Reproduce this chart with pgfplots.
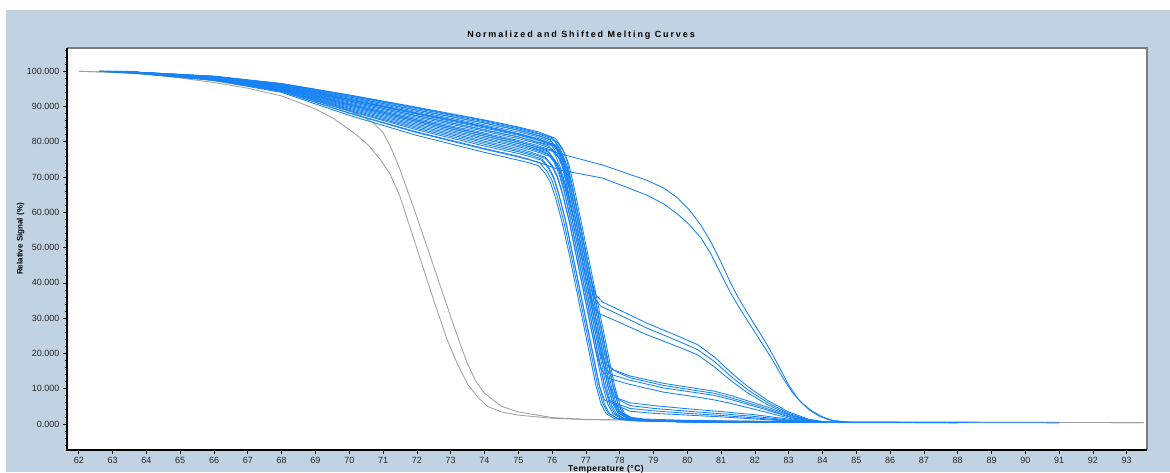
\documentclass[border=0pt]{standalone}
\usepackage{fontspec}
\setmainfont{Liberation Sans}
\newfontfamily\titlefont[LetterSpace=21]{Liberation Sans}
\newfontfamily\xlabfont[LetterSpace=6]{Liberation Sans}
\usepackage{pgfplots}
\pgfplotsset{compat=1.18}
\definecolor{bgblue}{RGB}{193,211,227}
\definecolor{cblue}{RGB}{22,130,245}
\definecolor{cgray}{RGB}{160,160,160}
\definecolor{frgray}{RGB}{125,125,125}
\begin{document}
\begin{tikzpicture}[x=1pt,y=1pt]
\fill[white] (0,0) rectangle (1170,472);
\fill[bgblue] (6,0) rectangle (1170,462);
\node[anchor=base,inner sep=0pt,font=\titlefont\bfseries\fontsize{9}{10}\selectfont] at (581,434) {Normalized and Shifted Melting Curves};
\node[rotate=90,inner sep=0pt,font=\bfseries\fontsize{8}{10}\selectfont] at (20.5,233) {Relative Signal (\%)};
\node[anchor=base,inner sep=0pt,font=\xlabfont\bfseries\fontsize{8.5}{10}\selectfont] at (606,0.8) {Temperature (°C)};
\begin{axis}[
  at={(67pt,22pt)}, anchor=south west, scale only axis,
  width=1080pt, height=402pt,
  xmin=61.65, xmax=93.6, ymin=-7.4, ymax=106.6,
  axis background/.style={fill=white},
  xtick={62,63,...,93}, ytick={0,10,...,100},
  minor ytick={-6,-4,...,106},
  tick align=outside, tick pos=left,
  major tick length=4pt, minor tick length=2.5pt,
  every tick/.style={black, line width=0.7pt},
  axis line style={draw=none},
  clip=false,
  tick label style={font=\fontsize{9}{10}\selectfont, text=black!85},
  /pgf/number format/assume math mode=true,
  yticklabel style={/pgf/number format/fixed, /pgf/number format/fixed zerofill, /pgf/number format/precision=3, /pgf/number format/1000 sep={}},
  xticklabel style={/pgf/number format/fixed, /pgf/number format/precision=0, /pgf/number format/1000 sep={}},
  bl/.style={cblue, line width=0.85pt},
  gr/.style={cgray, line width=0.85pt},
]
% gray curves
\addplot[gr] coordinates {(62,100) (63,99.7) (64,99.1) (65,98.1) (66,96.8) (67,95.2) (68,93.0) (68.5,91.2) (69,89.3) (69.5,86.8) (70,83.5) (70.3,81.3) (70.6,78.7) (70.9,75.2) (71.2,71.0) (71.5,64.5) (72.0,49.8) (72.5,35.0) (72.9,23.8) (73.2,17.0) (73.5,11.3) (73.8,7.6) (74.1,4.9) (74.5,3.4) (75,2.5) (76,1.6) (77,1.2) (80,0.9) (85,0.6) (90,0.45) (93.5,0.35)};
\addplot[gr] coordinates {(62,100) (63,99.7) (64,99.2) (65,98.4) (66,97.3) (67,95.9) (68,94.2) (69,92.0) (69.5,90.6) (70,88.8) (70.4,87.1) (70.7,85.5) (71.0,82.6) (71.25,78.0) (71.5,72.2) (72.0,58.7) (72.5,44.6) (73.0,30.4) (73.3,22.2) (73.5,17.0) (73.75,12.0) (74.0,8.7) (74.5,5.0) (75,3.4) (76,1.8) (77,1.3) (80,0.9) (85,0.6) (90,0.45) (93.5,0.35)};
% blue: A curves
\addplot[bl] coordinates {(62.6,100) (64,99.6) (66,98.6) (68,96.5) (70,93.3) (72,89.8) (74,86.2) (75,84.2) (75.6,82.8) (76.1,81.0) (76.3,78.2) (76.45,74.3) (76.6,67.2) (76.8,57.8) (77.0,48.4) (77.2,39.0) (77.4,29.6) (77.6,20.2) (77.8,10.8) (77.95,5.6) (78.1,2.9) (78.35,1.5) (78.8,0.9) (80,0.6) (84.5,0.4)};
\addplot[bl] coordinates {(63.0,100) (64,99.6) (66,98.5) (68,96.4) (70,93.0) (72,89.4) (74,85.7) (75,83.7) (75.6,82.2) (76.05,80.7) (76.25,77.9) (76.4,74.2) (76.55,67.2) (76.75,57.8) (76.95,48.4) (77.15,39.0) (77.35,29.6) (77.55,20.2) (77.75,10.8) (77.9,5.6) (78.05,2.9) (78.3,1.6) (78.75,1.0) (80,0.7) (82,0.5) (84.8,0.4)};
\addplot[bl] coordinates {(62.8,100) (64,99.6) (66,98.5) (68,96.3) (70,92.7) (72,89.0) (74,85.3) (75,83.3) (75.6,81.8) (76.15,80.0) (76.35,77.2) (76.5,73.5) (76.65,67.2) (76.85,57.8) (77.05,48.4) (77.25,39.0) (77.45,29.6) (77.65,20.2) (77.85,10.8) (78.0,5.6) (78.15,2.9) (78.4,1.4) (78.85,0.8) (80,0.5) (88,0.3)};
\addplot[bl] coordinates {(63.3,100) (64,99.5) (66,98.4) (68,96.1) (70,92.4) (72,88.6) (74,84.8) (75,82.8) (75.5,81.6) (76.0,79.9) (76.2,77.1) (76.35,73.4) (76.5,67.2) (76.7,57.8) (76.9,48.4) (77.1,39.0) (77.3,29.6) (77.5,20.2) (77.7,10.8) (77.85,5.6) (78.0,2.9) (78.25,1.6) (78.7,1.1) (80,0.8) (82,0.6) (84.3,0.4)};
\addplot[bl] coordinates {(62.6,100) (64,99.5) (66,98.4) (68,96.0) (70,92.1) (72,88.2) (74,84.4) (75,82.3) (75.5,81.1) (75.95,79.5) (76.15,76.7) (76.3,73.0) (76.45,67.0) (76.65,57.8) (76.85,48.4) (77.05,39.0) (77.25,29.6) (77.45,20.2) (77.65,10.8) (77.8,5.8) (77.95,3.2) (78.2,1.8) (78.65,1.2) (80,0.9) (82,0.6) (84.6,0.4)};
\addplot[bl] coordinates {(63.6,100) (64,99.5) (66,98.3) (68,95.9) (70,91.9) (72,87.8) (74,83.9) (75,81.9) (75.6,80.4) (76.1,78.7) (76.3,76.0) (76.45,72.5) (76.6,67.0) (76.8,57.8) (77.0,48.4) (77.2,39.0) (77.4,29.6) (77.6,20.2) (77.8,10.8) (77.95,5.6) (78.1,3.0) (78.35,1.7) (78.8,1.1) (80,0.7) (83,0.5) (85,0.4)};
\addplot[bl] coordinates {(62.9,100) (64,99.5) (66,98.2) (68,95.8) (70,91.6) (72,87.4) (74,83.4) (75,81.4) (75.45,80.2) (75.9,78.8) (76.1,76.2) (76.25,72.6) (76.4,66.8) (76.6,57.8) (76.8,48.4) (77.0,39.0) (77.2,29.6) (77.4,20.2) (77.6,10.8) (77.75,5.6) (77.9,2.9) (78.15,1.5) (78.6,0.9) (80,0.5) (91,0.3)};
\addplot[bl] coordinates {(63.4,100) (64,99.5) (66,98.2) (68,95.6) (70,91.3) (72,87.0) (74,83.0) (75,80.9) (75.5,79.7) (76.0,78.0) (76.2,75.4) (76.35,72.0) (76.5,66.8) (76.7,57.8) (76.9,48.4) (77.1,39.0) (77.3,29.6) (77.5,20.2) (77.7,10.8) (77.85,6.0) (78.0,3.4) (78.25,2.0) (78.7,1.4) (80,1.0) (82,0.7) (84,0.4)};
\addplot[bl] coordinates {(62.7,100) (64,99.4) (66,98.1) (68,95.4) (70,90.7) (72,86.2) (74,82.1) (75,80.0) (75.4,78.9) (75.85,77.5) (76.05,75.0) (76.2,71.8) (76.35,66.6) (76.55,57.8) (76.75,48.4) (76.95,39.0) (77.15,29.6) (77.35,20.2) (77.55,10.8) (77.7,5.6) (77.85,2.9) (78.1,1.6) (78.55,1.0) (80,0.6) (84.5,0.4)};
\addplot[bl] coordinates {(63.1,100) (64,99.4) (66,97.9) (68,95.1) (70,90.1) (72,85.4) (74,81.1) (75,79.0) (75.5,77.7) (75.95,76.2) (76.15,73.9) (76.3,70.8) (76.45,66.2) (76.65,57.8) (76.85,48.4) (77.05,39.0) (77.25,29.6) (77.45,20.2) (77.65,10.8) (77.8,5.8) (77.95,3.1) (78.2,1.7) (78.65,1.1) (80,0.8) (82.5,0.5) (84.8,0.4)};
\addplot[bl] coordinates {(62.6,100) (64,99.3) (66,97.8) (68,94.9) (70,89.5) (72,84.6) (74,80.2) (75,78.1) (75.4,77.0) (75.8,75.6) (76.0,73.4) (76.15,70.5) (76.3,65.8) (76.5,57.8) (76.7,48.4) (76.9,39.0) (77.1,29.6) (77.3,20.2) (77.5,10.8) (77.65,5.6) (77.8,2.9) (78.05,1.5) (78.5,0.9) (80,0.6) (84.2,0.4)};
\addplot[bl] coordinates {(63.5,100) (64,99.3) (66,97.7) (68,94.6) (70,88.9) (72,83.8) (74,79.3) (75,77.2) (75.35,76.3) (75.7,75.1) (75.9,72.8) (76.05,70.0) (76.2,65.2) (76.4,57.6) (76.6,48.4) (76.8,39.0) (77.0,29.6) (77.2,20.2) (77.4,10.8) (77.55,5.6) (77.7,2.9) (77.95,1.5) (78.4,0.9) (80,0.6) (84,0.4)};
\addplot[bl] coordinates {(62.9,100) (64,99.2) (66,97.5) (68,94.3) (70,88.2) (72,82.8) (74,78.1) (75,75.9) (75.3,75.1) (75.65,73.9) (75.85,71.6) (76.0,69.0) (76.15,64.6) (76.35,57.2) (76.55,48.4) (76.75,39.0) (76.95,29.6) (77.15,20.2) (77.35,10.8) (77.5,5.8) (77.65,3.1) (77.9,1.7) (78.35,1.1) (80,0.7) (82,0.5) (84.6,0.4)};
\addplot[bl] coordinates {(63.2,100) (64,99.2) (66,97.4) (68,94.0) (70,87.5) (72,81.8) (74,77.0) (75,74.8) (75.3,74.1) (75.6,73.2) (75.8,71.0) (75.95,68.5) (76.1,64.2) (76.3,57.0) (76.5,48.4) (76.7,39.0) (76.9,29.6) (77.1,20.2) (77.3,10.8) (77.45,5.6) (77.6,2.9) (77.85,1.5) (78.3,0.9) (80,0.6) (83.8,0.4)};
% B curves
\addplot[bl] coordinates {(62.7,100) (64,99.6) (66,98.5) (68,96.3) (70,92.7) (72,89.0) (74,85.3) (75,83.3) (75.5,82.0) (75.95,80.5) (76.15,77.7) (76.3,74.0) (76.45,67.2) (76.65,57.8) (76.85,48.4) (77.05,39.0) (77.25,29.6) (77.45,20.4) (77.6,16.8) (77.8,15.4) (78.3,13.6) (79.3,11.5) (80.3,10.0) (80.8,9.3) (81.3,8.0) (82.3,5.0) (83.1,2.2) (83.6,1.0) (84.1,0.4)};
\addplot[bl] coordinates {(63.0,100) (64,99.5) (66,98.2) (68,95.8) (70,91.6) (72,87.4) (74,83.4) (75,81.4) (75.6,79.9) (76.05,78.8) (76.25,76.2) (76.4,72.8) (76.55,67.0) (76.75,57.8) (76.95,48.4) (77.15,39.0) (77.35,29.6) (77.55,20.4) (77.7,16.2) (77.9,14.8) (78.3,13.1) (79.3,10.9) (80.3,9.4) (80.8,8.7) (81.3,7.4) (82.3,4.5) (83.1,1.9) (83.6,0.9) (84.2,0.4)};
\addplot[bl] coordinates {(63.4,100) (64,99.4) (66,98.0) (68,95.3) (70,90.4) (72,85.8) (74,81.6) (75,79.5) (75.45,78.3) (75.9,77.1) (76.1,74.6) (76.25,71.2) (76.4,66.2) (76.6,57.8) (76.8,48.4) (77.0,39.0) (77.2,29.6) (77.4,20.6) (77.55,16.0) (77.75,14.0) (78.3,12.4) (79.3,10.2) (80.3,8.8) (80.8,8.1) (81.3,6.9) (82.3,4.1) (83.1,1.7) (83.6,0.8) (84.0,0.4)};
\addplot[bl] coordinates {(62.8,100) (64,99.3) (66,97.8) (68,94.8) (70,89.2) (72,84.2) (74,79.8) (75,77.6) (75.4,76.6) (75.8,75.3) (76.0,73.0) (76.15,70.0) (76.3,65.4) (76.5,57.8) (76.7,48.4) (76.9,39.0) (77.1,29.6) (77.3,20.6) (77.45,15.5) (77.65,13.0) (78.3,11.2) (79.3,9.0) (80.3,7.6) (80.8,6.8) (81.3,5.8) (82.3,3.4) (83.1,1.4) (83.6,0.7) (84.0,0.4)};
% C curves
\addplot[bl] coordinates {(63.1,100) (64,99.5) (66,98.4) (68,96.0) (70,92.1) (72,88.2) (74,84.4) (75,82.3) (75.6,80.8) (76.1,79.1) (76.3,76.4) (76.45,72.8) (76.6,67.0) (76.8,57.8) (77.0,48.4) (77.15,41.0) (77.3,36.5) (77.5,34.5) (77.8,33.2) (78.8,28.6) (79.8,24.6) (80.3,22.5) (80.8,19.0) (81.3,14.5) (81.8,10.5) (82.4,6.5) (83.0,3.4) (83.6,1.3) (84.2,0.4)};
\addplot[bl] coordinates {(62.6,100) (64,99.4) (66,98.1) (68,95.5) (70,91.0) (72,86.6) (74,82.5) (75,80.4) (75.55,79.0) (76.05,77.4) (76.25,74.8) (76.4,71.5) (76.55,66.5) (76.75,57.8) (76.95,48.4) (77.1,41.0) (77.25,35.6) (77.45,33.3) (77.8,31.8) (78.8,27.2) (79.8,23.2) (80.3,21.1) (80.8,17.7) (81.3,13.4) (81.8,9.6) (82.4,5.9) (83.0,3.0) (83.6,1.1) (84.2,0.4)};
\addplot[bl] coordinates {(63.3,100) (64,99.4) (66,97.9) (68,95.0) (70,89.8) (72,85.0) (74,80.7) (75,78.6) (75.5,77.3) (75.95,75.8) (76.15,73.4) (76.3,70.2) (76.45,65.8) (76.65,57.8) (76.85,48.4) (77.05,39.0) (77.2,33.5) (77.4,31.2) (77.8,29.6) (78.8,25.3) (79.8,21.6) (80.3,19.6) (80.8,16.2) (81.3,12.2) (81.8,8.7) (82.4,5.3) (83.0,2.7) (83.6,1.0) (84.2,0.4)};
% D curves
\addplot[bl] coordinates {(62.8,100) (64,99.4) (66,98.1) (68,95.4) (70,90.7) (72,86.2) (74,82.1) (75,80.0) (75.6,78.5) (76.24,76.6) (77.5,73.4) (78.8,69.1) (79.3,66.9) (79.7,64.2) (80.05,60.8) (80.4,56.4) (80.7,51.6) (81.0,45.8) (81.25,40.6) (81.5,35.9) (81.8,31.1) (82.1,26.5) (82.4,21.8) (82.7,16.5) (83.0,11.0) (83.3,6.8) (83.6,4.0) (83.9,2.2) (84.2,1.1) (84.6,0.5)};
\addplot[bl] coordinates {(63.2,100) (64,99.2) (66,97.5) (68,94.3) (70,88.1) (72,82.6) (74,77.9) (75,75.7) (75.6,74.2) (76.24,72.0) (77.5,69.7) (78.8,64.9) (79.3,62.4) (79.7,59.6) (80.05,56.6) (80.4,52.8) (80.7,48.2) (81.0,42.4) (81.3,36.8) (81.6,32.0) (81.9,27.5) (82.2,23.0) (82.5,18.5) (82.8,13.5) (83.1,9.0) (83.4,5.8) (83.7,3.6) (84.0,2.0) (84.3,1.0) (84.8,0.5)};
% E curves
\addplot[bl] coordinates {(62.6,100) (64,99.6) (66,98.6) (68,96.5) (70,93.2) (72,89.6) (74,86.0) (75,84.0) (75.5,82.7) (76.0,81.2) (76.2,78.3) (76.35,74.3) (76.5,67.2) (76.7,57.8) (76.9,48.4) (77.1,39.0) (77.3,29.6) (77.5,20.2) (77.7,11.0) (77.85,7.6) (78.3,6.0) (79.0,5.2) (80.0,4.3) (81.0,3.5) (82.0,2.6) (82.8,1.6) (83.3,0.9) (83.8,0.4)};
\addplot[bl] coordinates {(63.2,100) (64,99.5) (66,98.3) (68,95.9) (70,92.0) (72,88.0) (74,84.2) (75,82.1) (75.6,80.6) (76.1,78.9) (76.3,76.2) (76.45,72.6) (76.6,67.0) (76.8,57.8) (77.0,48.4) (77.2,39.0) (77.4,29.6) (77.6,20.2) (77.8,10.9) (77.95,7.0) (78.3,5.2) (79.0,4.4) (80.0,3.6) (81.0,2.9) (82.0,2.1) (82.8,1.3) (83.3,0.8) (83.8,0.4)};
\addplot[bl] coordinates {(62.9,100) (64,99.4) (66,98.0) (68,95.3) (70,90.4) (72,85.8) (74,81.6) (75,79.5) (75.4,78.4) (75.85,76.8) (76.05,74.4) (76.2,71.0) (76.35,66.2) (76.55,57.8) (76.75,48.4) (76.95,39.0) (77.15,29.6) (77.35,20.2) (77.55,10.8) (77.7,6.5) (78.3,4.4) (79.0,3.7) (80.0,3.0) (81.0,2.4) (82.0,1.7) (82.8,1.1) (83.3,0.7) (83.8,0.4)};
\addplot[bl] coordinates {(63.6,100) (64,99.3) (66,97.6) (68,94.5) (70,88.7) (72,83.4) (74,78.8) (75,76.7) (75.35,75.8) (75.7,74.7) (75.9,72.4) (76.05,69.6) (76.2,65.0) (76.4,57.6) (76.6,48.4) (76.8,39.0) (77.0,29.6) (77.2,20.2) (77.4,10.8) (77.55,6.8) (78.3,3.6) (79.0,3.0) (80.0,2.5) (81.0,2.0) (82.0,1.4) (82.8,0.9) (83.3,0.6) (83.8,0.4)};
% frame
\draw[frgray, line width=1.6pt] (rel axis cs:0,1) -- (rel axis cs:1,1) -- (rel axis cs:1,0);
\draw[black, line width=1.3pt] (rel axis cs:0,1) -- (rel axis cs:0,0) -- (rel axis cs:1,0);
\end{axis}
\pgfresetboundingbox
\useasboundingbox (0,0) rectangle (1170,472);
\end{tikzpicture}
\end{document}
